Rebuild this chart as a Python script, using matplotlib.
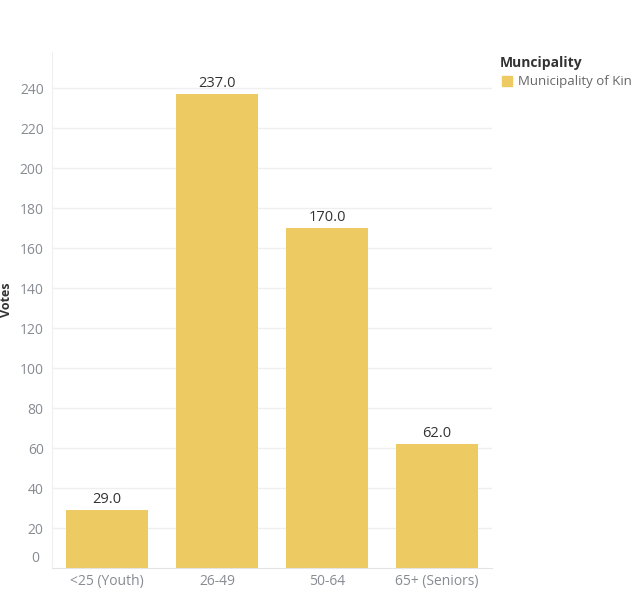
import matplotlib.pyplot as plt

# Data
categories = ["<25 (Youth)", "26-49", "50-64", "65+ (Seniors)"]
votes = [29.0, 237.0, 170.0, 62.0]
yticks = [20, 40, 60, 80, 100, 120, 140, 160, 180, 200, 220, 240]

bar_color = "#EDCA62"
tick_color = "#878b92"
grid_color = "#efefef"

plt.rcParams["font.family"] = ["Open Sans", "DejaVu Sans"]

fig = plt.figure(figsize=(6.37, 5.94), dpi=100)
ax = fig.add_axes([52 / 637, 26 / 594, 440 / 637, 516 / 594])

x = range(len(categories))
ax.bar(x, votes, width=0.745, color=bar_color, zorder=2)

# Value labels on top of bars
for i, v in enumerate(votes):
    ax.text(i, v + 1.5, f"{v:.1f}", ha="center", va="bottom", fontsize=10.5, color="#333333")

ax.set_xlim(-0.5, 3.5)
ax.set_ylim(0, 258)

ax.set_yticks(yticks)
ax.set_yticklabels([str(t) for t in yticks])
ax.set_xticks(list(x))
ax.set_xticklabels(categories)
ax.tick_params(axis="both", length=0, colors=tick_color, labelsize=10)
ax.tick_params(axis="y", pad=6)
ax.tick_params(axis="x", pad=4)
# Tableau-style "0" label sits a bit above the baseline
ax.text(-0.03, 5, "0", transform=ax.get_yaxis_transform(), ha="right", va="center",
        fontsize=10, color=tick_color)

ax.grid(axis="y", color=grid_color, linewidth=1, zorder=0)
for s in ["top", "right"]:
    ax.spines[s].set_visible(False)
ax.spines["left"].set_color(grid_color)
ax.spines["bottom"].set_color("#e4e4e4")

# y-axis title (sits at the very left edge, as in the reference)
fig.text(7 / 637, 1 - 300 / 594, "Votes", rotation=90, ha="center", va="center",
         fontsize=9, fontweight="bold", color="#333333")

# Legend
fig.text(500 / 637, 1 - 63 / 594, "Muncipality", ha="left", va="center",
         fontsize=10, fontweight="bold", color="#333333")
fig.patches.append(plt.Rectangle((502 / 637, 1 - 86 / 594), 10 / 637, 10 / 594,
                                 transform=fig.transFigure, color=bar_color))
fig.text(518 / 637, 1 - 81 / 594, "Municipality of Kin", ha="left", va="center",
         fontsize=9.5, color="#666666")

fig.savefig("out.png", dpi=100)
